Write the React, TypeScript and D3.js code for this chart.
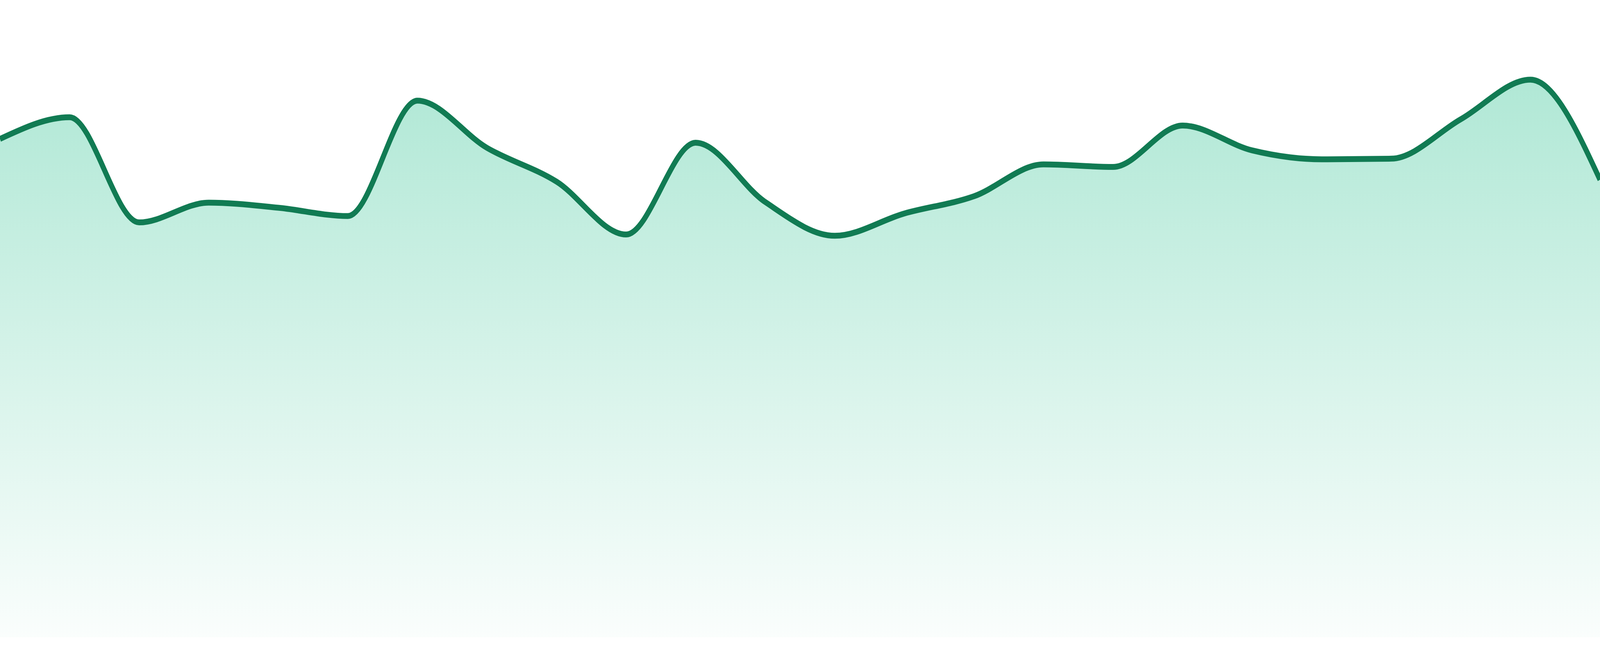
import React, { useEffect, useRef } from 'react';
import * as d3 from 'd3';

// one value per day
const days = [1, 2, 3, 4, 5, 6, 7, 8, 9, 10, 11, 12, 13, 14, 15, 16, 17, 18, 19, 20, 21, 22, 23, 24];
const values = [
  78.2, 81.6, 65.1, 68.2, 67.4, 66.1, 84.2, 76.8, 71.5, 63.2, 77.6, 68.3,
  63.0, 66.5, 69.2, 74.2, 73.8, 80.3, 76.4, 75.0, 75.1, 81.3, 87.5, 71.8,
];
const yDomain = [0, 100];

// drawing space, stretched onto the whole viewport
const WIDTH = 4800;
const HEIGHT = 1680;
const PLOT_BOTTOM = 1632;

const AreaSparkline: React.FC = () => {
  const svgRef = useRef<SVGSVGElement>(null);

  useEffect(() => {
    if (!svgRef.current) return;
    const svg = d3.select(svgRef.current);
    svg.selectAll('*').remove();

    const x = d3.scalePoint<number>()
      .domain(days)
      .range([0, WIDTH]);

    const y = d3.scaleLinear()
      .domain(yDomain)
      .range([PLOT_BOTTOM, 0]);

    const data = days.map((d, i) => ({ day: d, value: values[i] }));

    // vertical fade for the area fill
    const defs = svg.append('defs');
    const grad = defs.append('linearGradient')
      .attr('id', 'areaFade')
      .attr('gradientUnits', 'userSpaceOnUse')
      .attr('x1', 0)
      .attr('x2', 0)
      .attr('y1', y(d3.max(values) || 0))
      .attr('y2', PLOT_BOTTOM);
    grad.append('stop').attr('offset', '0%').attr('stop-color', '#10b981').attr('stop-opacity', 0.33);
    grad.append('stop').attr('offset', '100%').attr('stop-color', '#10b981').attr('stop-opacity', 0.02);

    const area = d3.area<{ day: number; value: number }>()
      .x(d => x(d.day) || 0)
      .y0(PLOT_BOTTOM)
      .y1(d => y(d.value))
      .curve(d3.curveMonotoneX);

    const line = d3.line<{ day: number; value: number }>()
      .x(d => x(d.day) || 0)
      .y(d => y(d.value))
      .curve(d3.curveMonotoneX);

    svg.append('path')
      .datum(data)
      .attr('d', area)
      .attr('fill', 'url(#areaFade)');

    svg.append('path')
      .datum(data)
      .attr('d', line)
      .attr('fill', 'none')
      .attr('stroke', '#117b53')
      .attr('stroke-width', 15)
      .attr('stroke-linejoin', 'round');
  }, []);

  return (
    <svg
      ref={svgRef}
      viewBox={`0 0 ${WIDTH} ${HEIGHT}`}
      preserveAspectRatio="none"
      style={{
        position: 'fixed',
        left: 0,
        top: 0,
        width: '100vw',
        height: '100vh',
        display: 'block',
        background: '#fff',
      }}
    />
  );
};

export default function App() {
  return <AreaSparkline />;
}
